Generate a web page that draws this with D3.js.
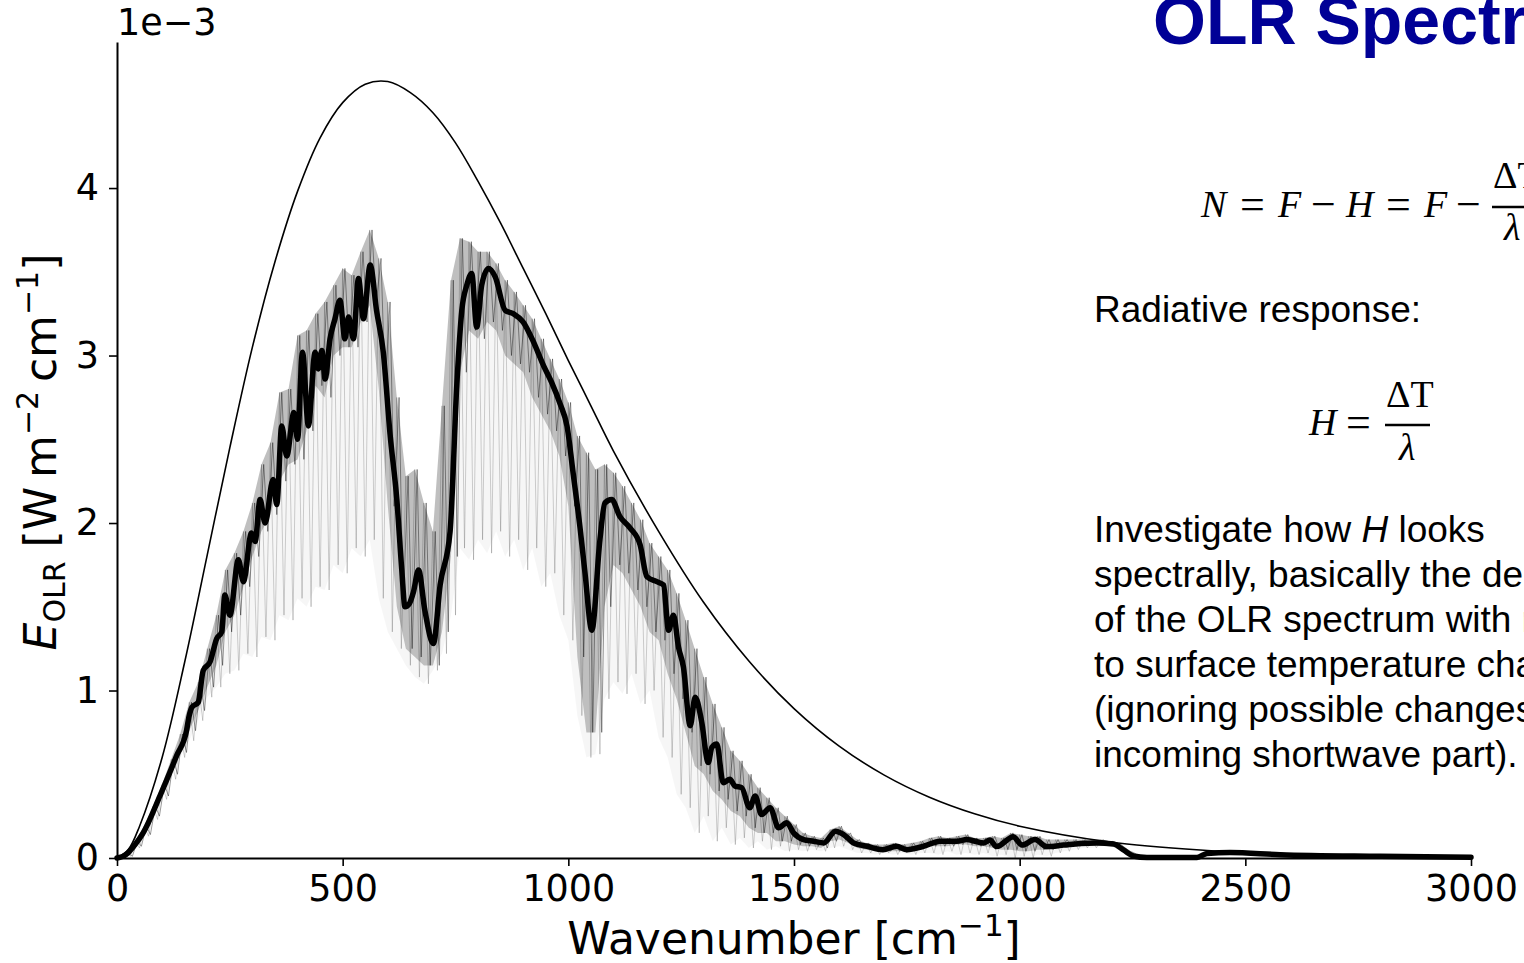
<!DOCTYPE html>
<html><head><meta charset="utf-8">
<script src="https://cdn.jsdelivr.net/npm/d3@7"></script>
<style>html,body{margin:0;padding:0;background:#fff;overflow:hidden}</style>
</head><body>
<svg id="c" width="1524" height="963"></svg>
<script>
// ---- Blackbody (Planck) reference curve, units 1e-3 ----
const planckWn  = [0,25,50,100,150,200,250,300,350,400,450,500,550,600,650,700,750,800,850,900,950,1000,1050,1100,1200,1300,1400,1500,1600,1700,1800,1900,2000,2200,2400,2600,2800,3000];
const planckVal = [0,0.05,0.19,0.60,1.17,1.81,2.45,3.05,3.56,3.98,4.30,4.51,4.62,4.636,4.57,4.45,4.27,4.04,3.79,3.52,3.25,2.97,2.70,2.43,1.95,1.525,1.176,0.892,0.668,0.495,0.363,0.264,0.190,0.096,0.048,0.023,0.011,0.005];

// ---- Smoothed OLR spectrum (thick line) ----
const olrWn  = [0,20,40,58,95,132,154,160,166,180,191,206,221,232,239,250,269,280,298,306,317,328,346,354,365,376,392,400,411,424,439,446,454,461,472,483,494,505,513,524,535,546,561,575,590,605,620,631,638,648,657,668,682,701,716,738,753,764,775,786,797,808,823,838,860,878,900,923,945,963,982,997,1011,1026,1037,1052,1070,1081,1096,1114,1137,1159,1174,1196,1211,1222,1233,1244,1255,1270,1281,1295,1310,1318,1329,1343,1358,1369,1384,1402,1414,1428,1447,1466,1484,1499,1521,1543,1566,1592,1610,1632,1662,1697,1727,1750,1787,1824,1861,1883,1920,1934,1949,1986,2005,2034,2060,2097,2134,2171,2208,2230,2252,2282,2393,2415,2466,2577,2799,3000];
const olrVal = [0,0.02,0.08,0.15,0.37,0.61,0.76,0.85,0.90,0.93,1.12,1.17,1.31,1.35,1.57,1.45,1.78,1.65,1.94,1.89,2.14,2.00,2.26,2.11,2.58,2.40,2.66,2.50,3.02,2.58,3.02,2.92,3.03,2.86,3.10,3.22,3.33,3.10,3.23,3.10,3.46,3.22,3.54,3.27,3.02,2.53,2.14,1.72,1.50,1.52,1.59,1.72,1.48,1.28,1.63,1.95,2.83,3.27,3.42,3.49,3.17,3.42,3.52,3.47,3.27,3.25,3.20,3.08,2.94,2.84,2.71,2.58,2.29,1.97,1.70,1.36,1.90,2.12,2.14,2.04,1.97,1.87,1.68,1.65,1.63,1.36,1.45,1.26,1.14,0.79,0.96,0.82,0.57,0.66,0.68,0.45,0.47,0.43,0.42,0.30,0.37,0.26,0.30,0.18,0.21,0.15,0.11,0.10,0.09,0.16,0.14,0.09,0.07,0.05,0.07,0.05,0.07,0.10,0.10,0.11,0.09,0.107,0.068,0.127,0.077,0.11,0.068,0.077,0.087,0.09,0.084,0.048,0.012,0.003,0.003,0.027,0.033,0.02,0.01,0.004];

// ---- High-resolution spectrum (thin grey lines): spike tops, dense-band bottom, deepest spikes ----
const specWn = [0,20,40,60,80,100,120,140,160,180,
  200,220,240,260,280,300,320,340,360,380,
  400,420,440,460,480,500,520,540,560,580,
  600,620,640,660,680,700,720,740,760,780,
  800,820,840,860,880,900,920,940,960,980,
  1000,1020,1040,1060,1080,1100,1120,1140,1160,1180,
  1200,1220,1240,1260,1280,1300,1320,1340,1360,1380,
  1400,1420,1440,1460,1480,1500,1520,1540,1560,1580,
  1600,1620,1640,1660,1680,1700,1720,1740,1760,1780,
  1800,1820,1840,1860,1880,1900,1920,1940,1960,1980,
  2000,2020,2040,2060,2080,2100,2120,2140,2160,2180,
  2200,2220,2240,2260,2280];
const specHi = [0,0.03,0.10,0.19,0.31,0.44,0.59,0.74,0.93,1.05,
  1.25,1.45,1.72,1.82,1.95,2.12,2.35,2.48,2.78,2.80,
  3.12,3.15,3.25,3.32,3.42,3.52,3.48,3.62,3.75,3.58,
  3.32,2.75,2.28,2.32,2.12,1.95,2.70,3.45,3.70,3.68,
  3.62,3.62,3.55,3.45,3.38,3.30,3.22,3.10,2.98,2.86,
  2.72,2.52,2.42,2.32,2.35,2.30,2.22,2.12,2.02,1.88,
  1.80,1.72,1.58,1.42,1.25,1.08,0.92,0.78,0.64,0.58,
  0.50,0.42,0.36,0.30,0.25,0.20,0.15,0.13,0.12,0.17,
  0.19,0.15,0.11,0.09,0.08,0.08,0.09,0.08,0.09,0.10,
  0.12,0.13,0.12,0.13,0.14,0.12,0.12,0.13,0.12,0.15,
  0.14,0.13,0.13,0.11,0.11,0.11,0.11,0.11,0.11,0.11,
  0.10,0.08,0.04,0.01,0];
const specCore = [0,0.01,0.07,0.14,0.25,0.37,0.50,0.63,0.76,0.88,
  1.02,1.15,1.35,1.45,1.62,1.80,1.95,2.05,2.25,2.35,
  2.38,2.55,2.82,2.75,3.00,3.05,3.05,3.20,3.30,2.80,
  2.10,1.50,1.25,1.20,1.15,1.15,1.35,1.80,2.90,3.15,
  3.10,3.20,3.15,3.00,2.95,2.90,2.75,2.65,2.55,2.40,
  2.10,1.20,0.75,0.75,1.50,1.75,1.70,1.60,1.50,1.35,
  1.30,1.10,0.95,0.75,0.55,0.50,0.40,0.35,0.28,0.25,
  0.18,0.15,0.15,0.10,0.10,0.08,0.07,0.07,0.06,0.10,
  0.11,0.09,0.06,0.05,0.04,0.04,0.04,0.04,0.05,0.06,
  0.07,0.07,0.07,0.08,0.08,0.07,0.07,0.06,0.05,0.05,
  0.04,0.04,0.05,0.05,0.06,0.07,0.07,0.08,0.08,0.08,
  0.08,0.06,0.03,0,0];
const specLo = [0,0.01,0.06,0.13,0.23,0.35,0.47,0.60,0.70,0.82,
  0.96,1.02,1.10,1.12,1.22,1.20,1.32,1.30,1.45,1.42,
  1.55,1.50,1.62,1.60,1.75,1.70,1.85,1.80,1.90,1.55,
  1.35,1.25,1.15,1.08,1.04,1.12,1.22,1.45,1.85,1.78,
  1.90,1.82,1.95,1.80,1.90,1.72,1.85,1.62,1.70,1.45,
  1.30,0.85,0.60,0.62,0.95,1.05,0.98,1.10,0.92,1.00,
  0.72,0.60,0.38,0.30,0.15,0.25,0.10,0.18,0.08,0.12,
  0.06,0.10,0.05,0.07,0.04,0.05,0.04,0.05,0.04,0.06,
  0.07,0.05,0.03,0.03,0.02,0.03,0.02,0.03,0.02,0.03,
  0.03,0.02,0.04,0.02,0.03,0.02,0.03,0.01,0.02,0.00,
  0.01,0.00,0.02,0.01,0.03,0.04,0.05,0.06,0.06,0.07,
  0.07,0.05,0.02,0.00,0];

const xTicks = [0,500,1000,1500,2000,2500,3000];
const yTicks = [0,1,2,3,4];

const paragraph = [
  ["Investigate how ", "H", " looks"],
  ["spectrally, basically the derivative"],
  ["of the OLR spectrum with respect"],
  ["to surface temperature change"],
  ["(ignoring possible changes in the"],
  ["incoming shortwave part)."]
];

const svg = d3.select("#c");
const x = d3.scaleLinear().domain([0, 3000]).range([117, 1471]);
const y = d3.scaleLinear().domain([0, 4.872]).range([858, 42]);

// grey spectrum
const specData = specWn.map((w, i) => ({w, hi: specHi[i], core: specCore[i], lo: specLo[i]}));
svg.append("path").datum(specData)
  .attr("d", d3.area().x(d => x(d.w)).y0(d => y(d.lo)).y1(d => y(d.core)))
  .attr("fill", "#000").attr("fill-opacity", 0.035);
svg.append("path").datum(specData)
  .attr("d", d3.area().x(d => x(d.w)).y0(d => y(d.core)).y1(d => y(d.hi)))
  .attr("fill", "#000").attr("fill-opacity", 0.25);
const zigDeep = [], zigCore = [];
specData.forEach(d => {
  zigDeep.push([d.w, d.hi]); zigDeep.push([d.w + 10, d.lo]);
  zigCore.push([d.w + 5, d.hi]); zigCore.push([d.w + 14, d.core]);
});
svg.append("path").datum(zigDeep)
  .attr("d", d3.line().x(d => x(d[0])).y(d => y(d[1])))
  .attr("fill", "none").attr("stroke", "#000").attr("stroke-opacity", 0.3).attr("stroke-width", 0.6);
svg.append("path").datum(zigCore)
  .attr("d", d3.line().x(d => x(d[0])).y(d => y(d[1])))
  .attr("fill", "none").attr("stroke", "#000").attr("stroke-opacity", 0.5).attr("stroke-width", 0.8);

// Planck curve
svg.append("path").datum(planckWn.map((w, i) => [w, planckVal[i]]))
  .attr("d", d3.line().x(d => x(d[0])).y(d => y(d[1])).curve(d3.curveCatmullRom.alpha(0.5)))
  .attr("fill", "none").attr("stroke", "#000").attr("stroke-width", 1.6);

// smoothed OLR
svg.append("path").datum(olrWn.map((w, i) => [w, olrVal[i]]))
  .attr("d", d3.line().x(d => x(d[0])).y(d => y(d[1])).curve(d3.curveMonotoneX))
  .attr("fill", "none").attr("stroke", "#000").attr("stroke-width", 5.5)
  .attr("stroke-linejoin", "round").attr("stroke-linecap", "round");

// axes
const axFont = "DejaVu Sans, sans-serif";
const gx = svg.append("g").attr("transform", "translate(0,858)")
  .call(d3.axisBottom(x).tickValues(xTicks).tickFormat(d3.format("d")).tickSize(8).tickSizeOuter(0).tickPadding(9));
const gy = svg.append("g").attr("transform", "translate(117,0)")
  .call(d3.axisLeft(y).tickValues(yTicks).tickFormat(d3.format("d")).tickSize(8).tickSizeOuter(0).tickPadding(10));
[gx, gy].forEach(g => {
  g.select(".domain").attr("stroke", "#000").attr("stroke-width", 2);
  g.selectAll(".tick line").attr("stroke", "#000").attr("stroke-width", 1.6);
  g.selectAll(".tick text").attr("font-family", axFont).attr("font-size", 36.5).attr("fill", "#000");
});

svg.append("text").attr("x", 117).attr("y", 35).attr("font-family", axFont)
  .attr("font-size", 36.5).text("1e\u22123");

// x label
const xl = svg.append("text").attr("x", 794).attr("y", 954).attr("text-anchor", "middle")
  .attr("font-family", axFont).attr("font-size", 44);
xl.append("tspan").text("Wavenumber [cm");
xl.append("tspan").attr("dy", -18).attr("font-size", 31).text("\u22121");
xl.append("tspan").attr("dy", 18).text("]");

// y label
const yl = svg.append("text").attr("transform", "translate(56,452) rotate(-90)")
  .attr("text-anchor", "middle").attr("font-family", axFont).attr("font-size", 44);
yl.append("tspan").attr("font-style", "italic").text("E");
yl.append("tspan").attr("dy", 9).attr("font-size", 30).text("OLR");
yl.append("tspan").attr("dy", -9).text(" [W\u2009m");
yl.append("tspan").attr("dy", -18).attr("font-size", 30).text("\u22122");
yl.append("tspan").attr("dy", 18).text("\u2009cm");
yl.append("tspan").attr("dy", -18).attr("font-size", 30).text("\u22121");
yl.append("tspan").attr("dy", 18).text("]");

// slide text
const sans = "Liberation Sans, Arial, sans-serif";
svg.append("text").attr("x", 1153).attr("y", 44).attr("font-family", sans)
  .attr("font-weight", "bold").attr("font-size", 68).attr("fill", "#000096").text("OLR Spectrum");

svg.append("text").attr("x", 1094).attr("y", 322).attr("font-family", sans)
  .attr("font-size", 37).attr("fill", "#000").text("Radiative response:");

paragraph.forEach((parts, i) => {
  const t = svg.append("text").attr("x", 1094).attr("y", 542 + i * 45)
    .attr("font-family", sans).attr("font-size", 37).attr("fill", "#000");
  parts.forEach((p, j) => {
    const s = t.append("tspan").text(p);
    if (parts.length === 3 && j === 1) s.attr("font-style", "italic");
  });
});

// equations
const serif = "Liberation Serif, DejaVu Serif, serif";
function glyph(txt, gx0, gy0, italic, size) {
  svg.append("text").attr("x", gx0).attr("y", gy0).attr("font-family", serif)
    .attr("font-size", size || 38).attr("font-style", italic ? "italic" : "normal").attr("fill", "#000").text(txt);
}
// N = F − H = F − ΔT/λ
glyph("N", 1201, 217, true);
glyph("=", 1240, 219, false, 44);
glyph("F", 1278, 217, true);
glyph("\u2212", 1311, 219, false, 44);
glyph("H", 1346, 217, true);
glyph("=", 1386, 219, false, 44);
glyph("F", 1424, 217, true);
glyph("\u2212", 1456, 219, false, 44);
glyph("\u0394T", 1493, 188, false);
glyph("\u03bb", 1504, 240, true);
svg.append("line").attr("x1", 1492).attr("x2", 1540).attr("y1", 207).attr("y2", 207)
  .attr("stroke", "#000").attr("stroke-width", 2.5);
// H = ΔT/λ
glyph("H", 1309, 435, true);
glyph("=", 1346, 437, false, 44);
glyph("\u0394T", 1386, 407, false);
glyph("\u03bb", 1399, 460, true);
svg.append("line").attr("x1", 1385).attr("x2", 1430).attr("y1", 425).attr("y2", 425)
  .attr("stroke", "#000").attr("stroke-width", 2.5);
</script>
</body></html>
